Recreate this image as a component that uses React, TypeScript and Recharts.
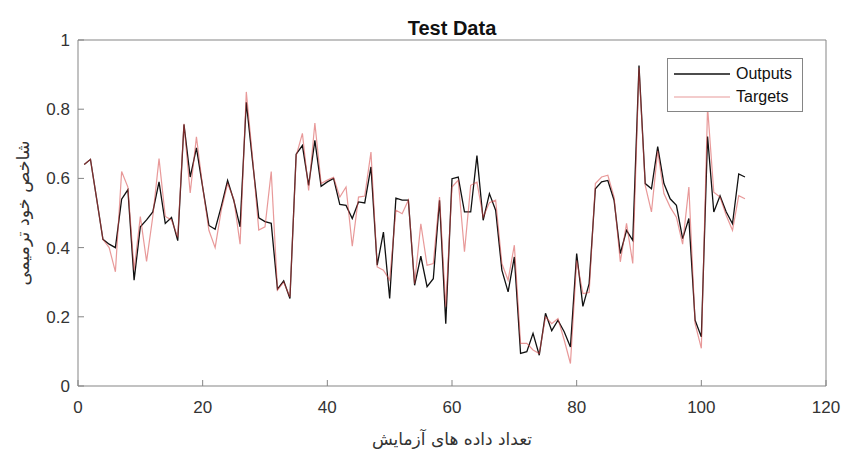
import React from "react";
import { LineChart, Line, XAxis, YAxis } from "recharts";

// test sample index 1..107
const outputs = [
  0.64, 0.655, 0.54, 0.424, 0.41, 0.4, 0.54, 0.567, 0.306, 0.46,
  0.48, 0.503, 0.59, 0.47, 0.487, 0.42, 0.756, 0.604, 0.688, 0.575,
  0.464, 0.453, 0.52, 0.594, 0.536, 0.46, 0.82, 0.65, 0.486, 0.475,
  0.47, 0.28, 0.304, 0.253, 0.67, 0.695, 0.58, 0.71, 0.577, 0.59,
  0.6, 0.525, 0.522, 0.484, 0.532, 0.529, 0.633, 0.349, 0.445, 0.253,
  0.543, 0.537, 0.537, 0.291, 0.375, 0.287, 0.31, 0.537, 0.18, 0.599,
  0.604, 0.503, 0.503, 0.666, 0.479, 0.556, 0.508, 0.335, 0.272, 0.373,
  0.094, 0.099, 0.152, 0.089, 0.21, 0.16, 0.19, 0.157, 0.113, 0.383,
  0.23, 0.296, 0.57, 0.59, 0.594, 0.537, 0.383, 0.45, 0.421, 0.926,
  0.585, 0.57, 0.692, 0.585, 0.541, 0.522, 0.426, 0.484, 0.19, 0.142,
  0.721, 0.503, 0.55, 0.503, 0.469, 0.613, 0.604,
];

const targets = [
  0.64, 0.655, 0.54, 0.424, 0.4, 0.33, 0.62, 0.575, 0.335, 0.49,
  0.36, 0.49, 0.657, 0.49, 0.48, 0.43, 0.758, 0.558, 0.72, 0.575,
  0.45, 0.4, 0.51, 0.585, 0.54, 0.41, 0.85, 0.66, 0.451, 0.46,
  0.62, 0.277, 0.3, 0.257, 0.665, 0.73, 0.565, 0.76, 0.585, 0.595,
  0.603, 0.546, 0.575, 0.404, 0.546, 0.549, 0.676, 0.344, 0.335, 0.306,
  0.508, 0.498, 0.537, 0.296, 0.469, 0.349, 0.354, 0.546, 0.229, 0.575,
  0.595, 0.388, 0.58, 0.589, 0.488, 0.53, 0.537, 0.354, 0.306, 0.407,
  0.123, 0.123, 0.104, 0.094, 0.2, 0.18, 0.195, 0.133, 0.065, 0.363,
  0.267, 0.27, 0.585, 0.604, 0.609, 0.546, 0.359, 0.47, 0.354, 0.92,
  0.58, 0.503, 0.68, 0.556, 0.517, 0.488, 0.41, 0.575, 0.18, 0.109,
  0.806, 0.56, 0.546, 0.493, 0.45, 0.55, 0.541,
];

const xTicks = [0, 20, 40, 60, 80, 100, 120];
const yTicks = [0, 0.2, 0.4, 0.6, 0.8, 1];

const title = "Test Data";
const xLabel = "تعداد داده های آزمایش";
const yLabel = "شاخص خود ترمیمی";
const seriesNames = ["Outputs", "Targets"];

const data = outputs.map((v, i) => ({ n: i + 1, out: v, tgt: targets[i] }));

const AXIS = "#858585";
const TEXT = "#333333";
const RED = "rgba(214,70,70,0.55)";
const SANS = "'Liberation Sans', Arial, sans-serif";
const tickFont = { fontFamily: SANS, fontSize: 17, fill: TEXT };

function LegendBox() {
  const rows = [
    { name: seriesNames[0], color: "#111", w: 1.3 },
    { name: seriesNames[1], color: RED, w: 1.2 },
  ];
  return (
    <div
      style={{
        position: "absolute",
        left: 667,
        top: 58,
        width: 134,
        padding: "3px 0",
        background: "#fff",
        border: `1px solid ${AXIS}`,
        fontFamily: SANS,
        fontSize: 16,
        color: "#111",
      }}
    >
      {rows.map((r) => (
        <div key={r.name} style={{ display: "flex", alignItems: "center", height: 23 }}>
          <svg width={62} height={10} style={{ marginLeft: 6 }}>
            <line x1={0} x2={56} y1={5} y2={5} stroke={r.color} strokeWidth={r.w} />
          </svg>
          <span>{r.name}</span>
        </div>
      ))}
    </div>
  );
}

export default function App() {
  return (
    <div style={{ position: "absolute", left: 0, top: 0, width: 842, height: 451, background: "#fff" }}>
      <LineChart width={842} height={451} data={data} margin={{ top: 0, right: 15, left: 8, bottom: 0 }}>
        <XAxis
          dataKey="n"
          type="number"
          domain={[0, 120]}
          ticks={xTicks}
          height={65}
          stroke={AXIS}
          tickSize={-6}
          tickMargin={21}
          tick={tickFont}
          label={{
            value: xLabel,
            position: "insideBottom",
            offset: 6,
            style: { fontFamily: "'DejaVu Sans', sans-serif", fontSize: 17, fill: TEXT },
          }}
        />
        <XAxis
          xAxisId="top"
          orientation="top"
          dataKey="n"
          type="number"
          domain={[0, 120]}
          ticks={xTicks}
          height={40}
          stroke={AXIS}
          tickSize={-6}
          tick={false}
          label={(props: any) => {
            const vb = props.viewBox;
            return (
              <text
                x={vb.x + vb.width / 2}
                y={vb.y + vb.height - 5}
                textAnchor="middle"
                style={{ fontFamily: SANS, fontSize: 20, fontWeight: "bold", fill: "#111" }}
              >
                {title}
              </text>
            );
          }}
        />
        <YAxis
          type="number"
          domain={[0, 1]}
          ticks={yTicks}
          width={70}
          stroke={AXIS}
          tickSize={-6}
          tickMargin={14}
          tick={tickFont}
          label={(props: any) => {
            const vb = props.viewBox;
            const cx = vb.x + 15;
            const cy = vb.y + vb.height / 2;
            return (
              <text
                x={cx}
                y={cy}
                transform={`rotate(-90 ${cx} ${cy})`}
                textAnchor="middle"
                dominantBaseline="central"
                style={{ fontFamily: "'DejaVu Sans', sans-serif", fontSize: 17.5, fill: TEXT }}
              >
                {yLabel}
              </text>
            );
          }}
        />
        <YAxis
          yAxisId="right"
          orientation="right"
          type="number"
          domain={[0, 1]}
          ticks={yTicks}
          width={1}
          stroke={AXIS}
          tickSize={-6}
          tick={false}
        />
        <Line
          type="linear"
          dataKey="out"
          name={seriesNames[0]}
          stroke="#111"
          strokeWidth={1.3}
          dot={false}
          isAnimationActive={false}
        />
        <Line
          type="linear"
          xAxisId="top"
          yAxisId="right"
          dataKey="tgt"
          name={seriesNames[1]}
          stroke={RED}
          strokeWidth={1.2}
          dot={false}
          isAnimationActive={false}
        />
      </LineChart>
      <LegendBox />
    </div>
  );
}
